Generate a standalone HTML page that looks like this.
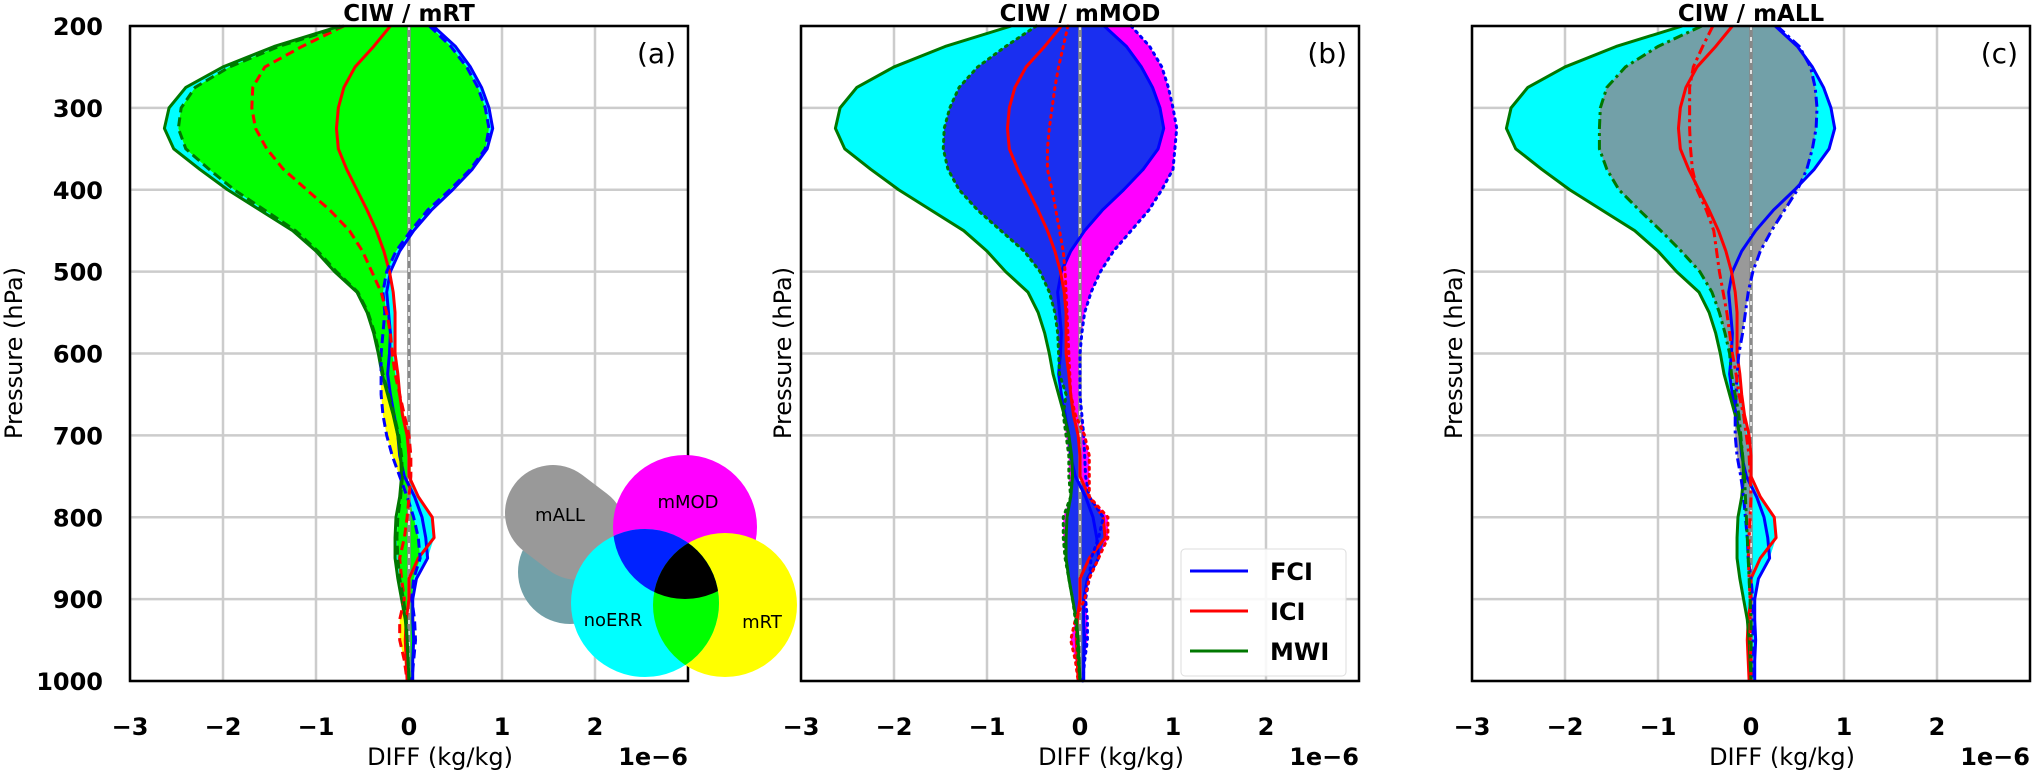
<!DOCTYPE html>
<html><head><meta charset="utf-8">
<style>
html,body{margin:0;padding:0;background:#fff;}
svg{display:block;font-family:"DejaVu Sans","Liberation Sans",sans-serif;}
</style></head>
<body>
<svg id="fig" width="2034" height="770" viewBox="0 0 2034 770" xmlns="http://www.w3.org/2000/svg">
<defs>
  <clipPath id="vennCyan"><circle cx="645" cy="603" r="74"/></clipPath>
  <clipPath id="vennMag"><circle cx="685" cy="527" r="72"/></clipPath>
  <clipPath id="vennYel"><circle cx="725" cy="605" r="72"/></clipPath>
</defs>
<g id="panels"></g>
</svg>
<script>
const PRESSURE = [200,225,250,275,300,325,350,375,400,425,450,475,500,525,550,575,600,625,650,675,700,725,750,775,800,825,850,875,900,925,950,975,1000];
const FCI_NOERR = [0.26,0.5,0.66,0.78,0.86,0.9,0.84,0.68,0.47,0.24,0.05,-0.1,-0.2,-0.24,-0.22,-0.2,-0.21,-0.23,-0.2,-0.16,-0.12,-0.1,-0.05,0.06,0.14,0.18,0.2,0.08,0.04,0.04,0.05,0.04,0.04];
const ICI_NOERR = [-0.2,-0.38,-0.58,-0.7,-0.76,-0.78,-0.76,-0.67,-0.56,-0.45,-0.35,-0.27,-0.21,-0.17,-0.15,-0.15,-0.15,-0.12,-0.1,-0.07,-0.02,0,0,0.1,0.25,0.27,0.1,0,0,-0.03,-0.04,-0.03,-0.02];
const MWI_NOERR = [-0.74,-1.45,-2.0,-2.4,-2.58,-2.63,-2.53,-2.25,-1.95,-1.6,-1.25,-1.0,-0.8,-0.56,-0.45,-0.38,-0.33,-0.29,-0.23,-0.17,-0.12,-0.09,-0.08,-0.1,-0.14,-0.15,-0.15,-0.12,-0.08,-0.04,-0.02,-0.01,0];
const FCI_MRT = [0.22,0.45,0.62,0.74,0.82,0.86,0.82,0.66,0.44,0.2,0.02,-0.14,-0.24,-0.28,-0.26,-0.28,-0.3,-0.3,-0.3,-0.28,-0.24,-0.18,-0.1,-0.02,0.05,0.1,0.12,0.05,0.03,0.06,0.07,0.05,0.03];
const ICI_MRT = [-0.7,-1.15,-1.55,-1.68,-1.69,-1.65,-1.53,-1.35,-1.1,-0.85,-0.64,-0.5,-0.4,-0.3,-0.24,-0.2,-0.18,-0.15,-0.1,-0.05,0,0.02,0.02,0,-0.02,-0.05,-0.1,-0.08,-0.05,-0.1,-0.1,-0.05,-0.02];
const MWI_MRT = [-0.7,-1.4,-1.93,-2.3,-2.45,-2.48,-2.4,-2.15,-1.88,-1.55,-1.22,-0.98,-0.78,-0.55,-0.44,-0.37,-0.32,-0.28,-0.22,-0.16,-0.11,-0.08,-0.07,-0.09,-0.12,-0.13,-0.12,-0.1,-0.06,-0.03,-0.02,-0.01,0];
const FCI_MMOD = [0.55,0.75,0.88,0.95,1.0,1.04,1.02,1.0,0.88,0.74,0.55,0.36,0.22,0.12,0.05,0.02,0,0,0,0.02,0.04,0.05,0.06,0.1,0.25,0.2,0.12,0.1,0.06,0.08,0.08,0.05,0.03];
const ICI_MMOD = [-0.13,-0.18,-0.23,-0.27,-0.3,-0.33,-0.35,-0.35,-0.3,-0.26,-0.22,-0.18,-0.16,-0.15,-0.14,-0.13,-0.12,-0.11,-0.1,-0.05,0.05,0.1,0.1,0.1,0.3,0.3,0.2,0.1,0.05,-0.05,-0.1,-0.05,-0.02];
const MWI_MMOD = [-0.47,-0.8,-1.1,-1.3,-1.4,-1.46,-1.47,-1.42,-1.3,-1.1,-0.85,-0.6,-0.43,-0.33,-0.27,-0.24,-0.23,-0.22,-0.15,-0.18,-0.15,-0.12,-0.12,-0.1,-0.18,-0.18,-0.16,-0.12,-0.08,-0.05,-0.03,-0.02,0];
const FCI_MALL = [0.28,0.52,0.64,0.69,0.71,0.7,0.66,0.6,0.5,0.36,0.22,0.1,0.02,-0.03,-0.06,-0.09,-0.13,-0.15,-0.16,-0.17,-0.17,-0.15,-0.11,-0.08,-0.06,-0.04,-0.03,0,0.02,0.02,0.02,0.02,0.02];
const ICI_MALL = [-0.41,-0.52,-0.62,-0.66,-0.66,-0.66,-0.65,-0.63,-0.58,-0.48,-0.4,-0.37,-0.34,-0.3,-0.26,-0.23,-0.2,-0.16,-0.13,-0.08,-0.05,-0.02,-0.01,0,-0.01,-0.02,-0.03,-0.02,-0.01,-0.01,-0.01,0,0];
const MWI_MALL = [-0.53,-1.0,-1.35,-1.55,-1.62,-1.63,-1.63,-1.55,-1.42,-1.2,-0.97,-0.75,-0.55,-0.42,-0.34,-0.28,-0.23,-0.21,-0.17,-0.13,-0.11,-0.09,-0.07,-0.06,-0.05,-0.04,-0.03,-0.02,-0.01,0,0,0,0];
const X_TICKS = [-3,-2,-1,0,1,2];
const Y_TICKS = [200,300,400,500,600,700,800,900,1000];
const PANEL_TITLES = ["CIW / mRT","CIW / mMOD","CIW / mALL"];
const PANEL_LETTERS = ["(a)","(b)","(c)"];

const NS = "http://www.w3.org/2000/svg";
const root = document.getElementById('panels');
function el(tag, attrs, parent){
  const e = document.createElementNS(NS, tag);
  for (const k in attrs) e.setAttribute(k, attrs[k]);
  (parent||root).appendChild(e);
  return e;
}
const PANELS = [
  {x0:130, exp:[FCI_MRT,ICI_MRT,MWI_MRT], expColor:'#ffff00', interColor:'#00ff00', dash:'9,5', key:'mrt', ylx:15},
  {x0:801, exp:[FCI_MMOD,ICI_MMOD,MWI_MMOD], expColor:'#ff00ff', interColor:'#1a2ff0', dash:'2,5', key:'mmod', ylx:784},
  {x0:1472, exp:[FCI_MALL,ICI_MALL,MWI_MALL], expColor:'#999999', interColor:'#72a0a8', dash:'10,4,3,4', key:'mall', ylx:1455}
];
const W = 558, Y0 = 26, Y1 = 681;
const yScale = p => Y0 + (p-200)/800*(Y1-Y0);
const COLORS = ['#0000ff','#ff0000','#007800'];
const NAMES = ['fci','ici','mwi'];

function envelope(sets, xs){
  const right=[], left=[];
  PRESSURE.forEach((p,i)=>{
    const vals = sets.map(s=>s[i]);
    right.push(xs(Math.max(...vals))+','+yScale(p));
    left.unshift(xs(Math.min(...vals))+','+yScale(p));
  });
  return right.concat(left).join(' ');
}
function linePts(arr, xs){ return PRESSURE.map((p,i)=>xs(arr[i])+','+yScale(p)).join(' '); }

PANELS.forEach((P,pi)=>{
  const xs = v => P.x0 + (v+3)/6*W;
  const g = el('g',{});
  
  
  X_TICKS.forEach(t=>{
    const l = el('line',{x1:xs(t),x2:xs(t),y1:Y0,y2:Y1,stroke:'#cccccc','stroke-width':2.5},g);
    
    
  });
  Y_TICKS.forEach(t=>{
    const l = el('line',{x1:P.x0,x2:P.x0+W,y1:yScale(t),y2:yScale(t),stroke:'#cccccc','stroke-width':2.5},g);
    
    
  });
  const noerrSets = [FCI_NOERR,ICI_NOERR,MWI_NOERR];
  const cid = 'clipNoerr'+pi;
  const cp = el('clipPath',{id:cid},g);
  el('polygon',{points:envelope(noerrSets,xs)},cp);
  const f1 = el('polygon',{points:envelope(noerrSets,xs),fill:'#00ffff'},g);
  
  
  const f2 = el('polygon',{points:envelope(P.exp,xs),fill:P.expColor},g);
  
  
  const f3 = el('polygon',{points:envelope(P.exp,xs),fill:P.interColor,'clip-path':'url(#'+cid+')'},g);
  
  
  const z1 = el('line',{x1:xs(0),x2:xs(0),y1:Y0,y2:Y1,stroke:'#888888','stroke-width':3.5},g);
  
  
  const z2 = el('line',{x1:xs(0),x2:xs(0),y1:Y0,y2:Y1,stroke:'#ffffff','stroke-width':1.5,'stroke-dasharray':'4,7'},g);
  
  
  noerrSets.forEach((arr,k)=>{
    const l = el('polyline',{points:linePts(arr,xs),fill:'none',stroke:COLORS[k],'stroke-width':3,'stroke-linejoin':'round'},g);
    
    
  });
  P.exp.forEach((arr,k)=>{
    const l = el('polyline',{points:linePts(arr,xs),fill:'none',stroke:COLORS[k],'stroke-width':3,'stroke-dasharray':P.dash,'stroke-linecap':P.key==='mmod'?'round':'butt'},g);
    
    
  });
  const fr = el('rect',{x:P.x0,y:Y0,width:W,height:Y1-Y0,fill:'none',stroke:'#000','stroke-width':2.5},g);
  
  
  X_TICKS.forEach(t=>{
    const tx = el('text',{x:xs(t),y:735,'text-anchor':'middle','font-size':24,'font-weight':'bold'},g);
    tx.textContent = (t<0?'\u2212'+(-t):String(t));
    
    
  });
  if (pi===0){
    Y_TICKS.forEach(t=>{
      const ty = el('text',{x:P.x0-27,y:yScale(t)+9,'text-anchor':'end','font-size':24,'font-weight':'bold'},g);
      ty.textContent = String(t);
      
      
    });
  }
  const yl = el('text',{x:0,y:0,'text-anchor':'middle','font-size':24,'dominant-baseline':'middle',transform:'translate('+P.ylx+',353) rotate(-90)'},g);
  yl.textContent = 'Pressure (hPa)';
  
  
  const xl = el('text',{x:P.x0+310,y:765,'text-anchor':'middle','font-size':24},g);
  xl.textContent = 'DIFF (kg/kg)';
  
  
  const ex = el('text',{x:P.x0+W,y:765,'text-anchor':'end','font-size':24,'font-weight':'bold'},g);
  ex.textContent = '1e\u22126';
  
  
  const tt = el('text',{x:P.x0+W/2,y:21,'text-anchor':'middle','font-size':23,'font-weight':'bold'},g);
  tt.textContent = PANEL_TITLES[pi];
  
  
  const lt = el('text',{x:P.x0+W-12,y:63,'text-anchor':'end','font-size':28},g);
  lt.textContent = PANEL_LETTERS[pi];
  
  
});
</script>

<svg style="position:absolute;left:0;top:0" width="2034" height="770">
  <g font-family="DejaVu Sans, sans-serif" font-size="18">
    <circle cx="570" cy="572" r="52" fill="#72a0a8"/>
    <line x1="553" y1="513" x2="578" y2="532" stroke="#999999" stroke-width="96" stroke-linecap="round"/>
    <circle cx="685" cy="527" r="72" fill="#ff00ff"/>
    <circle cx="725" cy="605" r="72" fill="#ffff00"/>
    <circle cx="645" cy="603" r="74" fill="#00ffff"/>
    <g clip-path="url(#vennCyan)"><circle cx="685" cy="527" r="72" fill="#0022ff"/></g>
    <g clip-path="url(#vennCyan)"><circle cx="725" cy="605" r="72" fill="#00ff00"/></g>
    <g clip-path="url(#vennCyan)"><g clip-path="url(#vennMag)"><circle cx="725" cy="605" r="72" fill="#000000"/></g></g>
    <text x="560" y="521" text-anchor="middle">mALL</text>
    <text x="688" y="508" text-anchor="middle">mMOD</text>
    <text x="613" y="626" text-anchor="middle">noERR</text>
    <text x="762" y="628" text-anchor="middle">mRT</text>
  </g>
  <g font-family="DejaVu Sans, sans-serif" font-size="24" font-weight="bold">
    <rect x="1181" y="549" width="165" height="127" rx="4" fill="#fff" fill-opacity="0.85" stroke="#dddddd" stroke-width="1"/>
    <line x1="1190" y1="571" x2="1248" y2="571" stroke="#0000ff" stroke-width="3"/>
    <text x="1270" y="580">FCI</text>
    <line x1="1190" y1="611" x2="1248" y2="611" stroke="#ff0000" stroke-width="3"/>
    <text x="1270" y="620">ICI</text>
    <line x1="1190" y1="651" x2="1248" y2="651" stroke="#007800" stroke-width="3"/>
    <text x="1270" y="660">MWI</text>
  </g>
</svg>
</body></html>
